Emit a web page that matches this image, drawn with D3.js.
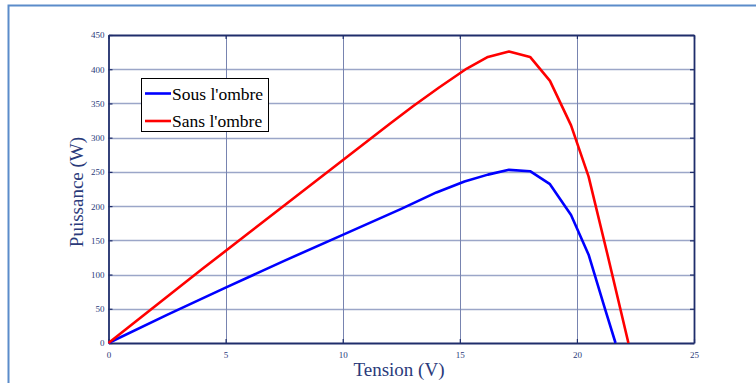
<!DOCTYPE html>
<html>
<head>
<meta charset="utf-8">
<script src="https://cdn.jsdelivr.net/npm/d3@7/dist/d3.min.js"></script>
<style>
  html, body { margin: 0; padding: 0; background: #ffffff; }
  svg { display: block; }
</style>
</head>
<body>
<script>
// P-V characteristics of a PV panel, with and without partial shading
const tensionSansOmbre = [0, 2, 4, 6, 8, 10, 12, 13, 14.1, 15.3, 16.2, 17.1, 18.0, 18.85, 19.75, 20.5, 21.3, 22.2];
const puissanceSansOmbre = [0, 54, 108, 161, 214, 267, 320, 346, 373, 401, 418, 426, 418, 383, 318, 243, 130, 0];

const tensionSousOmbre = [0, 2.5, 5, 7.5, 10, 12.5, 14, 15.2, 16.2, 17.1, 18.0, 18.85, 19.75, 20.5, 21.2, 21.65];
const puissanceSousOmbre = [0, 41, 81, 120, 158, 196, 220, 236, 246, 253, 251, 232, 187, 129, 50, 0];

const xTicks = [0, 5, 10, 15, 20, 25];
const yTicks = [0, 50, 100, 150, 200, 250, 300, 350, 400, 450];

const seriesNames = ["Sous l'ombre", "Sans l'ombre"];
const seriesColors = ["#0000ff", "#ff0000"];

const W = 756, H = 383;
const plotLeft = 108.5, plotRight = 694, plotTop = 35, plotBottom = 343;
const axisColor = "#1f2d6b";
const labelColor = "#2a3a7a";

const svg = d3.select("body").append("svg").attr("width", W).attr("height", H);

// outer frame
svg.append("path")
  .attr("d", `M8.5,${H} L8.5,5.5 L${W},5.5`)
  .attr("fill", "none").attr("stroke", "#5b8cca").attr("stroke-width", 2);

const x = d3.scaleLinear().domain([0, 25]).range([plotLeft, plotRight]);
const y = d3.scaleLinear().domain([0, 450]).range([plotBottom, plotTop]);

// grid
const grid = svg.append("g");
grid.selectAll("line.h").data(yTicks.slice(1, -1)).join("line")
  .attr("x1", plotLeft).attr("x2", plotRight)
  .attr("y1", d => Math.round(y(d)) + 0.5).attr("y2", d => Math.round(y(d)) + 0.5)
  .attr("stroke", "#9ba6c8").attr("stroke-width", 1.3);
grid.selectAll("line.v").data(xTicks.slice(1, -1)).join("line")
  .attr("y1", plotTop).attr("y2", plotBottom)
  .attr("x1", d => Math.round(x(d)) + 0.5).attr("x2", d => Math.round(x(d)) + 0.5)
  .attr("stroke", "#7884b0").attr("stroke-width", 1);

// axes (ticks inside on all four sides)
const font = "'Liberation Serif', 'DejaVu Serif', serif";
const tick = 4;
const axB = svg.append("g").attr("transform", `translate(0,${plotBottom})`)
  .call(d3.axisBottom(x).tickValues(xTicks).tickSizeInner(-tick).tickSizeOuter(0).tickPadding(9));
const axT = svg.append("g").attr("transform", `translate(0,${plotTop})`)
  .call(d3.axisTop(x).tickValues(xTicks).tickSizeInner(-tick).tickSizeOuter(0).tickFormat(""));
const axL = svg.append("g").attr("transform", `translate(${plotLeft},0)`)
  .call(d3.axisLeft(y).tickValues(yTicks).tickSizeInner(-tick).tickSizeOuter(0).tickPadding(4));
const axR = svg.append("g").attr("transform", `translate(${plotRight},0)`)
  .call(d3.axisRight(y).tickValues(yTicks).tickSizeInner(-tick).tickSizeOuter(0).tickFormat(""));
[axB, axT, axL, axR].forEach(g => {
  g.select(".domain").attr("stroke", axisColor).attr("stroke-width", 1.8);
  g.selectAll(".tick line").attr("stroke", axisColor).attr("stroke-width", 1.2);
  g.selectAll("text").attr("fill", labelColor).style("font-family", font).style("font-size", "9px");
});

// curves
const line = d3.line().x(d => x(d[0])).y(d => y(d[1]));
const curves = [
  d3.zip(tensionSousOmbre, puissanceSousOmbre),
  d3.zip(tensionSansOmbre, puissanceSansOmbre)
];
svg.append("g").selectAll("path").data(curves).join("path")
  .attr("d", line)
  .attr("fill", "none")
  .attr("stroke", (d, i) => seriesColors[i])
  .attr("stroke-width", 2.6)
  .attr("stroke-linejoin", "round");

// axis titles
svg.append("text").attr("x", 399).attr("y", 376).attr("text-anchor", "middle")
  .style("font-family", font).style("font-size", "19px").attr("fill", labelColor)
  .text("Tension (V)");
svg.append("text").attr("transform", "translate(83,192) rotate(-90)").attr("text-anchor", "middle")
  .style("font-family", font).style("font-size", "19px").attr("fill", labelColor)
  .text("Puissance (W)");

// legend
const lg = svg.append("g");
lg.append("rect").attr("x", 141.5).attr("y", 78.5).attr("width", 127).attr("height", 53)
  .attr("fill", "#ffffff").attr("stroke", "#000000").attr("stroke-width", 1);
seriesNames.forEach((name, i) => {
  const yy = 93.5 + i * 27.5;
  lg.append("line").attr("x1", 145).attr("x2", 171).attr("y1", yy).attr("y2", yy)
    .attr("stroke", seriesColors[i]).attr("stroke-width", 2.6);
  lg.append("text").attr("x", 172).attr("y", yy + 6)
    .style("font-family", font).style("font-size", "17.5px").attr("fill", "#000000")
    .text(name);
});
</script>
</body>
</html>
